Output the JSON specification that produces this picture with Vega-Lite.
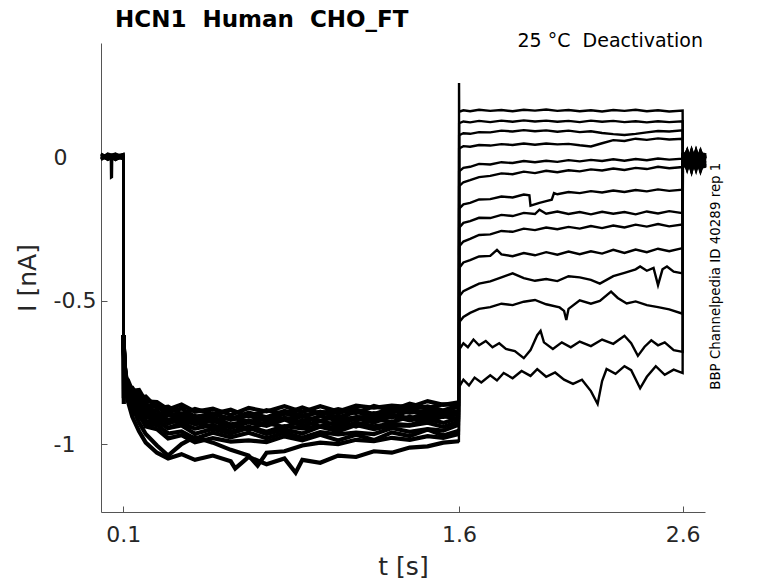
{
  "$schema": "https://vega.github.io/schema/vega-lite/v6.json",
  "width": 604,
  "height": 469,
  "autosize": {"type": "none"},
  "padding": {"left": 101, "top": 43, "right": 73, "bottom": 71},
  "background": "white",
  "config": {"view": {"stroke": null}, "font": "DejaVu Sans"},
  "layer": [
    {
      "data": {
        "values": [
          {"s":1,"t":0,"i":0.006},{"s":1,"t":0.03,"i":-0.004},{"s":1,"t":0.065,"i":0.01},{"s":1,"t":0.0995,"i":0.002},
          {"s":1,"t":0.1,"i":-0.62},{"s":1,"t":0.104,"i":-0.714},{"s":1,"t":0.11,"i":-0.751},{"s":1,"t":0.12,"i":-0.802},{"s":1,"t":0.14,"i":-0.803},{"s":1,"t":0.17,"i":-0.839},{"s":1,"t":0.2,"i":-0.834},{"s":1,"t":0.25,"i":-0.875},{"s":1,"t":0.3,"i":-0.869},{"s":1,"t":0.36,"i":-0.896},{"s":1,"t":0.42,"i":-0.877},{"s":1,"t":0.5,"i":-0.894},{"s":1,"t":0.58,"i":-0.88},{"s":1,"t":0.66,"i":-0.904},{"s":1,"t":0.74,"i":-0.882},{"s":1,"t":0.82,"i":-0.894},{"s":1,"t":0.9,"i":-0.872},{"s":1,"t":0.98,"i":-0.894},{"s":1,"t":1.06,"i":-0.878},{"s":1,"t":1.14,"i":-0.892},{"s":1,"t":1.22,"i":-0.867},{"s":1,"t":1.3,"i":-0.882},{"s":1,"t":1.38,"i":-0.859},{"s":1,"t":1.46,"i":-0.874},{"s":1,"t":1.53,"i":-0.861},{"s":1,"t":1.6,"i":-0.862},
          {"s":1,"t":1.6005,"i":0.26},
          {"s":1,"t":1.601,"i":0.16},{"s":1,"t":1.62,"i":0.165},{"s":1,"t":1.65,"i":0.162},{"s":1,"t":1.69,"i":0.167},{"s":1,"t":1.74,"i":0.163},{"s":1,"t":1.79,"i":0.166},{"s":1,"t":1.84,"i":0.162},{"s":1,"t":1.89,"i":0.167},{"s":1,"t":1.94,"i":0.164},{"s":1,"t":1.99,"i":0.168},{"s":1,"t":2.04,"i":0.163},{"s":1,"t":2.09,"i":0.166},{"s":1,"t":2.14,"i":0.162},{"s":1,"t":2.19,"i":0.165},{"s":1,"t":2.24,"i":0.161},{"s":1,"t":2.29,"i":0.166},{"s":1,"t":2.34,"i":0.163},{"s":1,"t":2.39,"i":0.167},{"s":1,"t":2.44,"i":0.162},{"s":1,"t":2.49,"i":0.165},{"s":1,"t":2.54,"i":0.161},{"s":1,"t":2.6,"i":0.164},
          {"s":1,"t":2.601,"i":0.012},{"s":1,"t":2.62,"i":-0.03},{"s":1,"t":2.64,"i":0.018},{"s":1,"t":2.66,"i":-0.036},{"s":1,"t":2.68,"i":0.01},{"s":1,"t":2.7,"i":-0.02},

          {"s":2,"t":0,"i":-0.006},{"s":2,"t":0.03,"i":0.012},{"s":2,"t":0.065,"i":-0.002},{"s":2,"t":0.0995,"i":0.008},
          {"s":2,"t":0.1,"i":-0.62},{"s":2,"t":0.104,"i":-0.706},{"s":2,"t":0.11,"i":-0.783},{"s":2,"t":0.12,"i":-0.8},{"s":2,"t":0.14,"i":-0.847},{"s":2,"t":0.17,"i":-0.849},{"s":2,"t":0.2,"i":-0.894},{"s":2,"t":0.25,"i":-0.899},{"s":2,"t":0.3,"i":-0.929},{"s":2,"t":0.36,"i":-0.912},{"s":2,"t":0.42,"i":-0.931},{"s":2,"t":0.5,"i":-0.918},{"s":2,"t":0.58,"i":-0.944},{"s":2,"t":0.66,"i":-0.924},{"s":2,"t":0.74,"i":-0.936},{"s":2,"t":0.82,"i":-0.914},{"s":2,"t":0.9,"i":-0.936},{"s":2,"t":0.98,"i":-0.92},{"s":2,"t":1.06,"i":-0.934},{"s":2,"t":1.14,"i":-0.91},{"s":2,"t":1.22,"i":-0.925},{"s":2,"t":1.3,"i":-0.902},{"s":2,"t":1.38,"i":-0.917},{"s":2,"t":1.46,"i":-0.904},{"s":2,"t":1.53,"i":-0.905},{"s":2,"t":1.6,"i":-0.894},
          {"s":2,"t":1.601,"i":0.12},{"s":2,"t":1.62,"i":0.126},{"s":2,"t":1.65,"i":0.123},{"s":2,"t":1.69,"i":0.128},{"s":2,"t":1.74,"i":0.124},{"s":2,"t":1.79,"i":0.129},{"s":2,"t":1.84,"i":0.125},{"s":2,"t":1.89,"i":0.13},{"s":2,"t":1.94,"i":0.126},{"s":2,"t":1.99,"i":0.129},{"s":2,"t":2.04,"i":0.125},{"s":2,"t":2.09,"i":0.128},{"s":2,"t":2.14,"i":0.124},{"s":2,"t":2.19,"i":0.129},{"s":2,"t":2.24,"i":0.125},{"s":2,"t":2.29,"i":0.128},{"s":2,"t":2.34,"i":0.124},{"s":2,"t":2.39,"i":0.127},{"s":2,"t":2.44,"i":0.123},{"s":2,"t":2.49,"i":0.127},{"s":2,"t":2.54,"i":0.124},{"s":2,"t":2.6,"i":0.127},
          {"s":2,"t":2.601,"i":-0.025},{"s":2,"t":2.62,"i":0.015},{"s":2,"t":2.64,"i":-0.04},{"s":2,"t":2.66,"i":0.02},{"s":2,"t":2.68,"i":-0.028},{"s":2,"t":2.7,"i":0.008},

          {"s":3,"t":0,"i":0.014},{"s":3,"t":0.03,"i":0.0},{"s":3,"t":0.044,"i":-0.004},{"s":3,"t":0.045,"i":-0.07},{"s":3,"t":0.049,"i":-0.068},{"s":3,"t":0.05,"i":0.004},{"s":3,"t":0.065,"i":-0.008},{"s":3,"t":0.0995,"i":0.01},
          {"s":3,"t":0.1,"i":-0.62},{"s":3,"t":0.104,"i":-0.695},{"s":3,"t":0.11,"i":-0.772},{"s":3,"t":0.12,"i":-0.79},{"s":3,"t":0.14,"i":-0.837},{"s":3,"t":0.17,"i":-0.833},{"s":3,"t":0.2,"i":-0.868},{"s":3,"t":0.25,"i":-0.866},{"s":3,"t":0.3,"i":-0.9},{"s":3,"t":0.36,"i":-0.893},{"s":3,"t":0.42,"i":-0.914},{"s":3,"t":0.5,"i":-0.893},{"s":3,"t":0.58,"i":-0.915},{"s":3,"t":0.66,"i":-0.901},{"s":3,"t":0.74,"i":-0.919},{"s":3,"t":0.82,"i":-0.893},{"s":3,"t":0.9,"i":-0.905},{"s":3,"t":0.98,"i":-0.887},{"s":3,"t":1.06,"i":-0.907},{"s":3,"t":1.14,"i":-0.887},{"s":3,"t":1.22,"i":-0.904},{"s":3,"t":1.3,"i":-0.883},{"s":3,"t":1.38,"i":-0.89},{"s":3,"t":1.46,"i":-0.883},{"s":3,"t":1.53,"i":-0.888},{"s":3,"t":1.6,"i":-0.867},
          {"s":3,"t":1.601,"i":0.078},{"s":3,"t":1.62,"i":0.085},{"s":3,"t":1.65,"i":0.083},{"s":3,"t":1.69,"i":0.089},{"s":3,"t":1.74,"i":0.088},{"s":3,"t":1.79,"i":0.094},{"s":3,"t":1.84,"i":0.091},{"s":3,"t":1.89,"i":0.096},{"s":3,"t":1.94,"i":0.092},{"s":3,"t":1.99,"i":0.095},{"s":3,"t":2.04,"i":0.09},{"s":3,"t":2.09,"i":0.094},{"s":3,"t":2.14,"i":0.089},{"s":3,"t":2.19,"i":0.092},{"s":3,"t":2.24,"i":0.086},{"s":3,"t":2.29,"i":0.082},{"s":3,"t":2.34,"i":0.079},{"s":3,"t":2.39,"i":0.083},{"s":3,"t":2.44,"i":0.088},{"s":3,"t":2.49,"i":0.093},{"s":3,"t":2.54,"i":0.091},{"s":3,"t":2.6,"i":0.095},
          {"s":3,"t":2.601,"i":0.005},{"s":3,"t":2.62,"i":-0.038},{"s":3,"t":2.64,"i":0.016},{"s":3,"t":2.66,"i":-0.022},{"s":3,"t":2.68,"i":0.019},{"s":3,"t":2.7,"i":-0.032},

          {"s":4,"t":0,"i":0.004},{"s":4,"t":0.03,"i":0.008},{"s":4,"t":0.065,"i":-0.006},{"s":4,"t":0.0995,"i":0.0},
          {"s":4,"t":0.1,"i":-0.62},{"s":4,"t":0.102,"i":-0.84},{"s":4,"t":0.104,"i":-0.707},{"s":4,"t":0.11,"i":-0.788},{"s":4,"t":0.12,"i":-0.809},{"s":4,"t":0.14,"i":-0.865},{"s":4,"t":0.17,"i":-0.877},{"s":4,"t":0.2,"i":-0.921},{"s":4,"t":0.25,"i":-0.92},{"s":4,"t":0.3,"i":-0.944},{"s":4,"t":0.36,"i":-0.935},{"s":4,"t":0.42,"i":-0.964},{"s":4,"t":0.5,"i":-0.947},{"s":4,"t":0.58,"i":-0.963},{"s":4,"t":0.66,"i":-0.943},{"s":4,"t":0.74,"i":-0.965},{"s":4,"t":0.82,"i":-0.949},{"s":4,"t":0.9,"i":-0.963},{"s":4,"t":0.98,"i":-0.939},{"s":4,"t":1.06,"i":-0.955},{"s":4,"t":1.14,"i":-0.933},{"s":4,"t":1.22,"i":-0.948},{"s":4,"t":1.3,"i":-0.935},{"s":4,"t":1.38,"i":-0.936},{"s":4,"t":1.46,"i":-0.925},{"s":4,"t":1.53,"i":-0.94},{"s":4,"t":1.6,"i":-0.921},
          {"s":4,"t":1.601,"i":0.032},{"s":4,"t":1.62,"i":0.04},{"s":4,"t":1.65,"i":0.038},{"s":4,"t":1.69,"i":0.044},{"s":4,"t":1.74,"i":0.042},{"s":4,"t":1.79,"i":0.047},{"s":4,"t":1.84,"i":0.044},{"s":4,"t":1.89,"i":0.049},{"s":4,"t":1.94,"i":0.045},{"s":4,"t":1.99,"i":0.049},{"s":4,"t":2.04,"i":0.046},{"s":4,"t":2.09,"i":0.048},{"s":4,"t":2.14,"i":0.043},{"s":4,"t":2.19,"i":0.039},{"s":4,"t":2.24,"i":0.05},{"s":4,"t":2.29,"i":0.061},{"s":4,"t":2.34,"i":0.058},{"s":4,"t":2.39,"i":0.066},{"s":4,"t":2.44,"i":0.062},{"s":4,"t":2.49,"i":0.067},{"s":4,"t":2.54,"i":0.063},{"s":4,"t":2.6,"i":0.066},
          {"s":4,"t":2.601,"i":-0.018},{"s":4,"t":2.62,"i":0.02},{"s":4,"t":2.64,"i":-0.032},{"s":4,"t":2.66,"i":0.014},{"s":4,"t":2.68,"i":-0.04},{"s":4,"t":2.7,"i":0.006},

          {"s":5,"t":0,"i":0.01},{"s":5,"t":0.03,"i":-0.006},{"s":5,"t":0.065,"i":0.004},{"s":5,"t":0.0995,"i":-0.004},
          {"s":5,"t":0.1,"i":-0.62},{"s":5,"t":0.104,"i":-0.694},{"s":5,"t":0.11,"i":-0.768},{"s":5,"t":0.12,"i":-0.776},{"s":5,"t":0.14,"i":-0.814},{"s":5,"t":0.17,"i":-0.811},{"s":5,"t":0.2,"i":-0.851},{"s":5,"t":0.25,"i":-0.853},{"s":5,"t":0.3,"i":-0.879},{"s":5,"t":0.36,"i":-0.862},{"s":5,"t":0.42,"i":-0.887},{"s":5,"t":0.5,"i":-0.876},{"s":5,"t":0.58,"i":-0.898},{"s":5,"t":0.66,"i":-0.874},{"s":5,"t":0.74,"i":-0.886},{"s":5,"t":0.82,"i":-0.868},{"s":5,"t":0.9,"i":-0.888},{"s":5,"t":0.98,"i":-0.868},{"s":5,"t":1.06,"i":-0.886},{"s":5,"t":1.14,"i":-0.866},{"s":5,"t":1.22,"i":-0.873},{"s":5,"t":1.3,"i":-0.866},{"s":5,"t":1.38,"i":-0.871},{"s":5,"t":1.46,"i":-0.85},{"s":5,"t":1.53,"i":-0.863},{"s":5,"t":1.6,"i":-0.854},
          {"s":5,"t":1.601,"i":-0.048},{"s":5,"t":1.62,"i":-0.036},{"s":5,"t":1.65,"i":-0.032},{"s":5,"t":1.69,"i":-0.022},{"s":5,"t":1.74,"i":-0.024},{"s":5,"t":1.79,"i":-0.016},{"s":5,"t":1.84,"i":-0.019},{"s":5,"t":1.89,"i":-0.012},{"s":5,"t":1.94,"i":-0.016},{"s":5,"t":1.99,"i":-0.011},{"s":5,"t":2.04,"i":-0.015},{"s":5,"t":2.09,"i":-0.009},{"s":5,"t":2.14,"i":-0.013},{"s":5,"t":2.19,"i":-0.008},{"s":5,"t":2.24,"i":-0.012},{"s":5,"t":2.29,"i":-0.006},{"s":5,"t":2.34,"i":-0.011},{"s":5,"t":2.39,"i":-0.005},{"s":5,"t":2.44,"i":-0.009},{"s":5,"t":2.49,"i":-0.003},{"s":5,"t":2.54,"i":-0.007},{"s":5,"t":2.6,"i":-0.004},
          {"s":5,"t":2.601,"i":0.016},{"s":5,"t":2.62,"i":-0.034},{"s":5,"t":2.64,"i":0.01},{"s":5,"t":2.66,"i":-0.026},{"s":5,"t":2.68,"i":0.02},{"s":5,"t":2.7,"i":-0.012},

          {"s":6,"t":0,"i":-0.008},{"s":6,"t":0.03,"i":0.006},{"s":6,"t":0.065,"i":0.014},{"s":6,"t":0.0995,"i":-0.002},
          {"s":6,"t":0.1,"i":-0.62},{"s":6,"t":0.104,"i":-0.696},{"s":6,"t":0.11,"i":-0.778},{"s":6,"t":0.12,"i":-0.799},{"s":6,"t":0.14,"i":-0.847},{"s":6,"t":0.17,"i":-0.845},{"s":6,"t":0.2,"i":-0.879},{"s":6,"t":0.25,"i":-0.883},{"s":6,"t":0.3,"i":-0.917},{"s":6,"t":0.36,"i":-0.904},{"s":6,"t":0.42,"i":-0.923},{"s":6,"t":0.5,"i":-0.906},{"s":6,"t":0.58,"i":-0.932},{"s":6,"t":0.66,"i":-0.918},{"s":6,"t":0.74,"i":-0.932},{"s":6,"t":0.82,"i":-0.908},{"s":6,"t":0.9,"i":-0.924},{"s":6,"t":0.98,"i":-0.902},{"s":6,"t":1.06,"i":-0.918},{"s":6,"t":1.14,"i":-0.906},{"s":6,"t":1.22,"i":-0.907},{"s":6,"t":1.3,"i":-0.896},{"s":6,"t":1.38,"i":-0.911},{"s":6,"t":1.46,"i":-0.892},{"s":6,"t":1.53,"i":-0.895},{"s":6,"t":1.6,"i":-0.884},
          {"s":6,"t":1.601,"i":-0.1},{"s":6,"t":1.62,"i":-0.086},{"s":6,"t":1.65,"i":-0.079},{"s":6,"t":1.69,"i":-0.068},{"s":6,"t":1.74,"i":-0.064},{"s":6,"t":1.79,"i":-0.055},{"s":6,"t":1.84,"i":-0.058},{"s":6,"t":1.89,"i":-0.049},{"s":6,"t":1.94,"i":-0.054},{"s":6,"t":1.99,"i":-0.046},{"s":6,"t":2.04,"i":-0.051},{"s":6,"t":2.09,"i":-0.044},{"s":6,"t":2.14,"i":-0.048},{"s":6,"t":2.19,"i":-0.041},{"s":6,"t":2.24,"i":-0.045},{"s":6,"t":2.29,"i":-0.038},{"s":6,"t":2.34,"i":-0.043},{"s":6,"t":2.39,"i":-0.036},{"s":6,"t":2.44,"i":-0.04},{"s":6,"t":2.49,"i":-0.032},{"s":6,"t":2.54,"i":-0.037},{"s":6,"t":2.6,"i":-0.033},
          {"s":6,"t":2.601,"i":-0.03},{"s":6,"t":2.62,"i":0.01},{"s":6,"t":2.64,"i":-0.044},{"s":6,"t":2.66,"i":0.018},{"s":6,"t":2.68,"i":-0.016},{"s":6,"t":2.7,"i":0.012},

          {"s":7,"t":0,"i":0.012},{"s":7,"t":0.03,"i":-0.008},{"s":7,"t":0.065,"i":0.002},{"s":7,"t":0.0995,"i":0.006},
          {"s":7,"t":0.1,"i":-0.62},{"s":7,"t":0.104,"i":-0.71},{"s":7,"t":0.11,"i":-0.791},{"s":7,"t":0.12,"i":-0.816},{"s":7,"t":0.14,"i":-0.875},{"s":7,"t":0.17,"i":-0.891},{"s":7,"t":0.2,"i":-0.932},{"s":7,"t":0.25,"i":-0.933},{"s":7,"t":0.3,"i":-0.963},{"s":7,"t":0.36,"i":-0.956},{"s":7,"t":0.42,"i":-0.981},{"s":7,"t":0.5,"i":-0.96},{"s":7,"t":0.58,"i":-0.976},{"s":7,"t":0.66,"i":-0.96},{"s":7,"t":0.74,"i":-0.98},{"s":7,"t":0.82,"i":-0.96},{"s":7,"t":0.9,"i":-0.978},{"s":7,"t":0.98,"i":-0.958},{"s":7,"t":1.06,"i":-0.966},{"s":7,"t":1.14,"i":-0.96},{"s":7,"t":1.22,"i":-0.965},{"s":7,"t":1.3,"i":-0.944},{"s":7,"t":1.38,"i":-0.957},{"s":7,"t":1.46,"i":-0.948},{"s":7,"t":1.53,"i":-0.953},{"s":7,"t":1.6,"i":-0.932},
          {"s":7,"t":1.601,"i":-0.178},{"s":7,"t":1.62,"i":-0.163},{"s":7,"t":1.65,"i":-0.158},{"s":7,"t":1.69,"i":-0.146},{"s":7,"t":1.74,"i":-0.145},{"s":7,"t":1.79,"i":-0.136},{"s":7,"t":1.84,"i":-0.139},{"s":7,"t":1.89,"i":-0.129},{"s":7,"t":1.915,"i":-0.132},{"s":7,"t":1.92,"i":-0.168},{"s":7,"t":1.96,"i":-0.158},{"s":7,"t":1.99,"i":-0.152},{"s":7,"t":2.015,"i":-0.147},{"s":7,"t":2.025,"i":-0.124},{"s":7,"t":2.04,"i":-0.128},{"s":7,"t":2.09,"i":-0.12},{"s":7,"t":2.14,"i":-0.124},{"s":7,"t":2.19,"i":-0.117},{"s":7,"t":2.24,"i":-0.122},{"s":7,"t":2.29,"i":-0.115},{"s":7,"t":2.34,"i":-0.12},{"s":7,"t":2.39,"i":-0.113},{"s":7,"t":2.44,"i":-0.118},{"s":7,"t":2.49,"i":-0.111},{"s":7,"t":2.54,"i":-0.116},{"s":7,"t":2.6,"i":-0.112},
          {"s":7,"t":2.601,"i":0.008},{"s":7,"t":2.62,"i":-0.026},{"s":7,"t":2.64,"i":0.02},{"s":7,"t":2.66,"i":-0.03},{"s":7,"t":2.68,"i":0.004},{"s":7,"t":2.7,"i":-0.024},

          {"s":8,"t":0,"i":-0.004},{"s":8,"t":0.03,"i":0.01},{"s":8,"t":0.065,"i":0.0},{"s":8,"t":0.0995,"i":0.012},
          {"s":8,"t":0.1,"i":-0.62},{"s":8,"t":0.104,"i":-0.7},{"s":8,"t":0.11,"i":-0.774},{"s":8,"t":0.12,"i":-0.784},{"s":8,"t":0.14,"i":-0.822},{"s":8,"t":0.17,"i":-0.825},{"s":8,"t":0.2,"i":-0.867},{"s":8,"t":0.25,"i":-0.865},{"s":8,"t":0.3,"i":-0.889},{"s":8,"t":0.36,"i":-0.876},{"s":8,"t":0.42,"i":-0.905},{"s":8,"t":0.5,"i":-0.894},{"s":8,"t":0.58,"i":-0.912},{"s":8,"t":0.66,"i":-0.89},{"s":8,"t":0.74,"i":-0.906},{"s":8,"t":0.82,"i":-0.884},{"s":8,"t":0.9,"i":-0.9},{"s":8,"t":0.98,"i":-0.888},{"s":8,"t":1.06,"i":-0.89},{"s":8,"t":1.14,"i":-0.88},{"s":8,"t":1.22,"i":-0.895},{"s":8,"t":1.3,"i":-0.876},{"s":8,"t":1.38,"i":-0.879},{"s":8,"t":1.46,"i":-0.868},{"s":8,"t":1.53,"i":-0.883},{"s":8,"t":1.6,"i":-0.864},
          {"s":8,"t":1.601,"i":-0.245},{"s":8,"t":1.62,"i":-0.228},{"s":8,"t":1.65,"i":-0.222},{"s":8,"t":1.69,"i":-0.21},{"s":8,"t":1.74,"i":-0.211},{"s":8,"t":1.79,"i":-0.2},{"s":8,"t":1.84,"i":-0.204},{"s":8,"t":1.89,"i":-0.193},{"s":8,"t":1.94,"i":-0.197},{"s":8,"t":1.96,"i":-0.182},{"s":8,"t":1.99,"i":-0.196},{"s":8,"t":2.04,"i":-0.188},{"s":8,"t":2.09,"i":-0.197},{"s":8,"t":2.14,"i":-0.19},{"s":8,"t":2.19,"i":-0.198},{"s":8,"t":2.24,"i":-0.189},{"s":8,"t":2.29,"i":-0.196},{"s":8,"t":2.34,"i":-0.19},{"s":8,"t":2.39,"i":-0.198},{"s":8,"t":2.44,"i":-0.188},{"s":8,"t":2.49,"i":-0.195},{"s":8,"t":2.54,"i":-0.187},{"s":8,"t":2.6,"i":-0.194},
          {"s":8,"t":2.601,"i":-0.022},{"s":8,"t":2.62,"i":0.018},{"s":8,"t":2.64,"i":-0.036},{"s":8,"t":2.66,"i":0.01},{"s":8,"t":2.68,"i":-0.03},{"s":8,"t":2.7,"i":0.016},

          {"s":9,"t":0,"i":0.008},{"s":9,"t":0.03,"i":0.002},{"s":9,"t":0.065,"i":-0.008},{"s":9,"t":0.0995,"i":0.004},
          {"s":9,"t":0.1,"i":-0.62},{"s":9,"t":0.104,"i":-0.701},{"s":9,"t":0.11,"i":-0.786},{"s":9,"t":0.12,"i":-0.814},{"s":9,"t":0.14,"i":-0.861},{"s":9,"t":0.17,"i":-0.863},{"s":9,"t":0.2,"i":-0.906},{"s":9,"t":0.25,"i":-0.914},{"s":9,"t":0.3,"i":-0.944},{"s":9,"t":0.36,"i":-0.927},{"s":9,"t":0.42,"i":-0.946},{"s":9,"t":0.5,"i":-0.933},{"s":9,"t":0.58,"i":-0.957},{"s":9,"t":0.66,"i":-0.939},{"s":9,"t":0.74,"i":-0.957},{"s":9,"t":0.82,"i":-0.937},{"s":9,"t":0.9,"i":-0.945},{"s":9,"t":0.98,"i":-0.939},{"s":9,"t":1.06,"i":-0.945},{"s":9,"t":1.14,"i":-0.925},{"s":9,"t":1.22,"i":-0.938},{"s":9,"t":1.3,"i":-0.929},{"s":9,"t":1.38,"i":-0.934},{"s":9,"t":1.46,"i":-0.913},{"s":9,"t":1.53,"i":-0.926},{"s":9,"t":1.6,"i":-0.909},
          {"s":9,"t":1.601,"i":-0.31},{"s":9,"t":1.62,"i":-0.293},{"s":9,"t":1.65,"i":-0.284},{"s":9,"t":1.69,"i":-0.27},{"s":9,"t":1.74,"i":-0.268},{"s":9,"t":1.79,"i":-0.256},{"s":9,"t":1.84,"i":-0.259},{"s":9,"t":1.89,"i":-0.248},{"s":9,"t":1.94,"i":-0.253},{"s":9,"t":1.99,"i":-0.244},{"s":9,"t":2.04,"i":-0.25},{"s":9,"t":2.09,"i":-0.242},{"s":9,"t":2.14,"i":-0.248},{"s":9,"t":2.19,"i":-0.239},{"s":9,"t":2.24,"i":-0.246},{"s":9,"t":2.29,"i":-0.237},{"s":9,"t":2.34,"i":-0.244},{"s":9,"t":2.39,"i":-0.234},{"s":9,"t":2.44,"i":-0.241},{"s":9,"t":2.49,"i":-0.232},{"s":9,"t":2.54,"i":-0.24},{"s":9,"t":2.6,"i":-0.233},
          {"s":9,"t":2.601,"i":0.014},{"s":9,"t":2.62,"i":-0.028},{"s":9,"t":2.64,"i":0.008},{"s":9,"t":2.66,"i":-0.04},{"s":9,"t":2.68,"i":0.016},{"s":9,"t":2.7,"i":-0.018},

          {"s":10,"t":0,"i":-0.002},{"s":10,"t":0.03,"i":0.014},{"s":10,"t":0.065,"i":0.006},{"s":10,"t":0.0995,"i":-0.006},
          {"s":10,"t":0.1,"i":-0.62},{"s":10,"t":0.104,"i":-0.72},{"s":10,"t":0.11,"i":-0.8},{"s":10,"t":0.12,"i":-0.85},{"s":10,"t":0.14,"i":-0.905},{"s":10,"t":0.17,"i":-0.955},{"s":10,"t":0.2,"i":-0.995},{"s":10,"t":0.25,"i":-1.03},{"s":10,"t":0.3,"i":-1.05},{"s":10,"t":0.36,"i":-1.035},{"s":10,"t":0.42,"i":-1.055},{"s":10,"t":0.5,"i":-1.04},{"s":10,"t":0.58,"i":-1.06},{"s":10,"t":0.6,"i":-1.085},{"s":10,"t":0.66,"i":-1.045},{"s":10,"t":0.74,"i":-1.07},{"s":10,"t":0.82,"i":-1.05},{"s":10,"t":0.87,"i":-1.1},{"s":10,"t":0.9,"i":-1.055},{"s":10,"t":0.98,"i":-1.065},{"s":10,"t":1.06,"i":-1.04},{"s":10,"t":1.14,"i":-1.045},{"s":10,"t":1.22,"i":-1.025},{"s":10,"t":1.3,"i":-1.03},{"s":10,"t":1.38,"i":-1.012},{"s":10,"t":1.46,"i":-1.008},{"s":10,"t":1.53,"i":-0.995},{"s":10,"t":1.6,"i":-0.99},
          {"s":10,"t":1.601,"i":-0.385},{"s":10,"t":1.62,"i":-0.366},{"s":10,"t":1.65,"i":-0.358},{"s":10,"t":1.69,"i":-0.345},{"s":10,"t":1.74,"i":-0.343},{"s":10,"t":1.77,"i":-0.322},{"s":10,"t":1.79,"i":-0.338},{"s":10,"t":1.84,"i":-0.344},{"s":10,"t":1.89,"i":-0.333},{"s":10,"t":1.94,"i":-0.341},{"s":10,"t":1.99,"i":-0.33},{"s":10,"t":2.04,"i":-0.339},{"s":10,"t":2.09,"i":-0.328},{"s":10,"t":2.14,"i":-0.337},{"s":10,"t":2.19,"i":-0.327},{"s":10,"t":2.24,"i":-0.335},{"s":10,"t":2.29,"i":-0.322},{"s":10,"t":2.34,"i":-0.333},{"s":10,"t":2.39,"i":-0.321},{"s":10,"t":2.44,"i":-0.33},{"s":10,"t":2.49,"i":-0.318},{"s":10,"t":2.54,"i":-0.327},{"s":10,"t":2.6,"i":-0.316},
          {"s":10,"t":2.601,"i":-0.034},{"s":10,"t":2.62,"i":0.012},{"s":10,"t":2.64,"i":-0.024},{"s":10,"t":2.66,"i":0.02},{"s":10,"t":2.68,"i":-0.038},{"s":10,"t":2.7,"i":0.004},

          {"s":11,"t":0,"i":0.002},{"s":11,"t":0.03,"i":-0.006},{"s":11,"t":0.065,"i":0.012},{"s":11,"t":0.0995,"i":0.004},
          {"s":11,"t":0.1,"i":-0.62},{"s":11,"t":0.104,"i":-0.713},{"s":11,"t":0.11,"i":-0.754},{"s":11,"t":0.12,"i":-0.815},{"s":11,"t":0.14,"i":-0.821},{"s":11,"t":0.17,"i":-0.857},{"s":11,"t":0.2,"i":-0.857},{"s":11,"t":0.25,"i":-0.9},{"s":11,"t":0.3,"i":-0.896},{"s":11,"t":0.36,"i":-0.919},{"s":11,"t":0.42,"i":-0.902},{"s":11,"t":0.5,"i":-0.923},{"s":11,"t":0.58,"i":-0.905},{"s":11,"t":0.66,"i":-0.923},{"s":11,"t":0.74,"i":-0.911},{"s":11,"t":0.82,"i":-0.913},{"s":11,"t":0.9,"i":-0.903},{"s":11,"t":0.98,"i":-0.919},{"s":11,"t":1.06,"i":-0.901},{"s":11,"t":1.14,"i":-0.917},{"s":11,"t":1.22,"i":-0.892},{"s":11,"t":1.3,"i":-0.907},{"s":11,"t":1.38,"i":-0.882},{"s":11,"t":1.46,"i":-0.903},{"s":11,"t":1.53,"i":-0.884},{"s":11,"t":1.6,"i":-0.901},
          {"s":11,"t":1.601,"i":-0.485},{"s":11,"t":1.62,"i":-0.466},{"s":11,"t":1.65,"i":-0.455},{"s":11,"t":1.69,"i":-0.44},{"s":11,"t":1.74,"i":-0.432},{"s":11,"t":1.79,"i":-0.418},{"s":11,"t":1.84,"i":-0.404},{"s":11,"t":1.89,"i":-0.421},{"s":11,"t":1.94,"i":-0.43},{"s":11,"t":1.99,"i":-0.424},{"s":11,"t":2.04,"i":-0.431},{"s":11,"t":2.09,"i":-0.414},{"s":11,"t":2.14,"i":-0.418},{"s":11,"t":2.19,"i":-0.427},{"s":11,"t":2.23,"i":-0.44},{"s":11,"t":2.29,"i":-0.414},{"s":11,"t":2.34,"i":-0.402},{"s":11,"t":2.39,"i":-0.39},{"s":11,"t":2.41,"i":-0.38},{"s":11,"t":2.44,"i":-0.395},{"s":11,"t":2.47,"i":-0.385},{"s":11,"t":2.49,"i":-0.445},{"s":11,"t":2.51,"i":-0.39},{"s":11,"t":2.53,"i":-0.38},{"s":11,"t":2.56,"i":-0.398},{"s":11,"t":2.6,"i":-0.404},
          {"s":11,"t":2.601,"i":0.01},{"s":11,"t":2.62,"i":-0.032},{"s":11,"t":2.64,"i":0.022},{"s":11,"t":2.66,"i":-0.026},{"s":11,"t":2.68,"i":0.006},{"s":11,"t":2.7,"i":-0.036},

          {"s":12,"t":0,"i":0.01},{"s":12,"t":0.03,"i":0.004},{"s":12,"t":0.065,"i":-0.004},{"s":12,"t":0.0995,"i":0.008},
          {"s":12,"t":0.1,"i":-0.62},{"s":12,"t":0.102,"i":-0.86},{"s":12,"t":0.104,"i":-0.711},{"s":12,"t":0.11,"i":-0.798},{"s":12,"t":0.12,"i":-0.832},{"s":12,"t":0.14,"i":-0.889},{"s":12,"t":0.17,"i":-0.897},{"s":12,"t":0.2,"i":-0.938},{"s":12,"t":0.25,"i":-0.948},{"s":12,"t":0.3,"i":-0.98},{"s":12,"t":0.36,"i":-0.969},{"s":12,"t":0.42,"i":-0.994},{"s":12,"t":0.5,"i":-0.979},{"s":12,"t":0.58,"i":-0.991},{"s":12,"t":0.66,"i":-0.987},{"s":12,"t":0.74,"i":-0.993},{"s":12,"t":0.82,"i":-0.973},{"s":12,"t":0.9,"i":-0.987},{"s":12,"t":0.98,"i":-0.967},{"s":12,"t":1.06,"i":-0.987},{"s":12,"t":1.14,"i":-0.967},{"s":12,"t":1.22,"i":-0.986},{"s":12,"t":1.3,"i":-0.959},{"s":12,"t":1.38,"i":-0.972},{"s":12,"t":1.46,"i":-0.949},{"s":12,"t":1.53,"i":-0.97},{"s":12,"t":1.6,"i":-0.953},
          {"s":12,"t":1.601,"i":-0.575},{"s":12,"t":1.62,"i":-0.556},{"s":12,"t":1.65,"i":-0.542},{"s":12,"t":1.69,"i":-0.528},{"s":12,"t":1.74,"i":-0.522},{"s":12,"t":1.79,"i":-0.51},{"s":12,"t":1.84,"i":-0.515},{"s":12,"t":1.89,"i":-0.503},{"s":12,"t":1.94,"i":-0.497},{"s":12,"t":1.99,"i":-0.512},{"s":12,"t":2.05,"i":-0.523},{"s":12,"t":2.07,"i":-0.535},{"s":12,"t":2.08,"i":-0.567},{"s":12,"t":2.09,"i":-0.528},{"s":12,"t":2.14,"i":-0.498},{"s":12,"t":2.19,"i":-0.51},{"s":12,"t":2.23,"i":-0.5},{"s":12,"t":2.28,"i":-0.468},{"s":12,"t":2.31,"i":-0.49},{"s":12,"t":2.35,"i":-0.509},{"s":12,"t":2.39,"i":-0.502},{"s":12,"t":2.44,"i":-0.515},{"s":12,"t":2.49,"i":-0.522},{"s":12,"t":2.54,"i":-0.53},{"s":12,"t":2.6,"i":-0.545},
          {"s":12,"t":2.601,"i":-0.014},{"s":12,"t":2.62,"i":0.02},{"s":12,"t":2.64,"i":-0.042},{"s":12,"t":2.66,"i":0.012},{"s":12,"t":2.68,"i":-0.022},{"s":12,"t":2.7,"i":0.01},

          {"s":13,"t":0,"i":-0.004},{"s":13,"t":0.03,"i":0.008},{"s":13,"t":0.065,"i":0.01},{"s":13,"t":0.0995,"i":-0.002},
          {"s":13,"t":0.1,"i":-0.62},{"s":13,"t":0.104,"i":-0.71},{"s":13,"t":0.11,"i":-0.785},{"s":13,"t":0.12,"i":-0.825},{"s":13,"t":0.14,"i":-0.87},{"s":13,"t":0.17,"i":-0.925},{"s":13,"t":0.2,"i":-0.965},{"s":13,"t":0.25,"i":-1.005},{"s":13,"t":0.3,"i":-1.04},{"s":13,"t":0.36,"i":-1.0},{"s":13,"t":0.42,"i":-0.975},{"s":13,"t":0.5,"i":-0.995},{"s":13,"t":0.58,"i":-1.02},{"s":13,"t":0.66,"i":-1.04},{"s":13,"t":0.7,"i":-1.075},{"s":13,"t":0.74,"i":-1.03},{"s":13,"t":0.82,"i":-1.025},{"s":13,"t":0.9,"i":-1.005},{"s":13,"t":0.98,"i":-0.995},{"s":13,"t":1.06,"i":-1.0},{"s":13,"t":1.14,"i":-0.985},{"s":13,"t":1.22,"i":-0.99},{"s":13,"t":1.3,"i":-0.978},{"s":13,"t":1.38,"i":-0.985},{"s":13,"t":1.46,"i":-0.972},{"s":13,"t":1.53,"i":-0.978},{"s":13,"t":1.6,"i":-0.965},
          {"s":13,"t":1.601,"i":-0.67},{"s":13,"t":1.62,"i":-0.648},{"s":13,"t":1.64,"i":-0.662},{"s":13,"t":1.665,"i":-0.635},{"s":13,"t":1.69,"i":-0.655},{"s":13,"t":1.72,"i":-0.64},{"s":13,"t":1.75,"i":-0.662},{"s":13,"t":1.78,"i":-0.648},{"s":13,"t":1.81,"i":-0.668},{"s":13,"t":1.85,"i":-0.675},{"s":13,"t":1.89,"i":-0.7},{"s":13,"t":1.92,"i":-0.672},{"s":13,"t":1.95,"i":-0.62},{"s":13,"t":1.965,"i":-0.605},{"s":13,"t":1.98,"i":-0.645},{"s":13,"t":2.02,"i":-0.668},{"s":13,"t":2.06,"i":-0.645},{"s":13,"t":2.1,"i":-0.662},{"s":13,"t":2.14,"i":-0.642},{"s":13,"t":2.19,"i":-0.658},{"s":13,"t":2.24,"i":-0.635},{"s":13,"t":2.29,"i":-0.65},{"s":13,"t":2.34,"i":-0.622},{"s":13,"t":2.37,"i":-0.648},{"s":13,"t":2.4,"i":-0.692},{"s":13,"t":2.43,"i":-0.66},{"s":13,"t":2.46,"i":-0.638},{"s":13,"t":2.49,"i":-0.655},{"s":13,"t":2.52,"i":-0.645},{"s":13,"t":2.56,"i":-0.672},{"s":13,"t":2.6,"i":-0.678},
          {"s":13,"t":2.601,"i":0.018},{"s":13,"t":2.62,"i":-0.024},{"s":13,"t":2.64,"i":0.004},{"s":13,"t":2.66,"i":-0.034},{"s":13,"t":2.68,"i":0.014},{"s":13,"t":2.7,"i":-0.028},

          {"s":14,"t":0,"i":0.006},{"s":14,"t":0.03,"i":-0.002},{"s":14,"t":0.065,"i":0.008},{"s":14,"t":0.0995,"i":0.012},
          {"s":14,"t":0.1,"i":-0.62},{"s":14,"t":0.104,"i":-0.723},{"s":14,"t":0.11,"i":-0.769},{"s":14,"t":0.12,"i":-0.825},{"s":14,"t":0.14,"i":-0.832},{"s":14,"t":0.17,"i":-0.875},{"s":14,"t":0.2,"i":-0.877},{"s":14,"t":0.25,"i":-0.916},{"s":14,"t":0.3,"i":-0.916},{"s":14,"t":0.36,"i":-0.927},{"s":14,"t":0.42,"i":-0.924},{"s":14,"t":0.5,"i":-0.945},{"s":14,"t":0.58,"i":-0.931},{"s":14,"t":0.66,"i":-0.949},{"s":14,"t":0.74,"i":-0.925},{"s":14,"t":0.82,"i":-0.941},{"s":14,"t":0.9,"i":-0.917},{"s":14,"t":0.98,"i":-0.939},{"s":14,"t":1.06,"i":-0.921},{"s":14,"t":1.14,"i":-0.939},{"s":14,"t":1.22,"i":-0.912},{"s":14,"t":1.3,"i":-0.923},{"s":14,"t":1.38,"i":-0.904},{"s":14,"t":1.46,"i":-0.925},{"s":14,"t":1.53,"i":-0.902},{"s":14,"t":1.6,"i":-0.913},
          {"s":14,"t":1.601,"i":-0.8},{"s":14,"t":1.62,"i":-0.775},{"s":14,"t":1.645,"i":-0.795},{"s":14,"t":1.67,"i":-0.768},{"s":14,"t":1.7,"i":-0.785},{"s":14,"t":1.74,"i":-0.76},{"s":14,"t":1.77,"i":-0.778},{"s":14,"t":1.8,"i":-0.752},{"s":14,"t":1.84,"i":-0.77},{"s":14,"t":1.88,"i":-0.745},{"s":14,"t":1.92,"i":-0.762},{"s":14,"t":1.95,"i":-0.738},{"s":14,"t":1.99,"i":-0.765},{"s":14,"t":2.03,"i":-0.75},{"s":14,"t":2.07,"i":-0.775},{"s":14,"t":2.11,"i":-0.79},{"s":14,"t":2.15,"i":-0.775},{"s":14,"t":2.19,"i":-0.815},{"s":14,"t":2.22,"i":-0.86},{"s":14,"t":2.24,"i":-0.78},{"s":14,"t":2.26,"i":-0.738},{"s":14,"t":2.3,"i":-0.755},{"s":14,"t":2.34,"i":-0.728},{"s":14,"t":2.37,"i":-0.742},{"s":14,"t":2.41,"i":-0.805},{"s":14,"t":2.44,"i":-0.765},{"s":14,"t":2.48,"i":-0.728},{"s":14,"t":2.52,"i":-0.758},{"s":14,"t":2.56,"i":-0.74},{"s":14,"t":2.6,"i":-0.752},
          {"s":14,"t":2.601,"i":-0.028},{"s":14,"t":2.62,"i":0.014},{"s":14,"t":2.64,"i":-0.03},{"s":14,"t":2.66,"i":0.008},{"s":14,"t":2.68,"i":-0.044},{"s":14,"t":2.7,"i":0.002}
        ]
      },
      "encoding": {
        "x": {
          "field": "t",
          "type": "quantitative",
          "scale": {"domain": [0, 2.7], "nice": false, "zero": false},
          "axis": {
            "title": "t [s]",
            "values": [0.1, 1.6, 2.6],
            "format": ".1f",
            "grid": false,
            "tickSize": -6,
            "labelPadding": 18,
            "labelBaseline": "top",
            "labelFlush": false,
            "labelFont": "DejaVu Sans",
            "labelFontSize": 22,
            "labelColor": "#262626",
            "domainColor": "#555555",
            "tickColor": "#555555",
            "titleFont": "DejaVu Sans",
            "titleFontSize": 25,
            "titleFontWeight": "normal",
            "titleColor": "#262626",
            "titleBaseline": "alphabetic",
            "titleY": 62
          }
        },
        "y": {
          "field": "i",
          "type": "quantitative",
          "scale": {"domain": [-1.237, 0.4], "nice": false, "zero": false},
          "axis": {
            "title": "I [nA]",
            "values": [-1, -0.5, 0],
            "labelExpr": "datum.value == 0 ? '0' : datum.value == -0.5 ? '-0.5' : '-1'",
            "grid": false,
            "tickSize": -6,
            "labelPadding": 54,
            "labelAlign": "left",
            "labelFont": "DejaVu Sans",
            "labelFontSize": 22,
            "labelColor": "#262626",
            "domainColor": "#555555",
            "tickColor": "#555555",
            "titleFont": "DejaVu Sans",
            "titleFontSize": 25,
            "titleFontWeight": "normal",
            "titleColor": "#262626",
            "titleAngle": 270,
            "titleAlign": "center",
            "titleBaseline": "alphabetic",
            "titleX": -66,
            "titleY": 234.5
          }
        },
        "detail": {"field": "s", "type": "nominal"}
      },
      "layer": [
        {
          "mark": {"type": "line", "color": "#000000", "strokeWidth": 2.4, "strokeJoin": "miter"}
        },
        {
          "transform": [{"filter": "datum.t >= 0.1 && datum.t <= 1.6"}],
          "mark": {"type": "line", "color": "#000000", "strokeWidth": 4.2, "strokeJoin": "miter"}
        },
        {
          "transform": [{"filter": "datum.t >= 2.601"}],
          "mark": {"type": "line", "color": "#000000", "strokeWidth": 3.6, "strokeJoin": "miter"}
        }
      ]
    },
    {
      "data": {"values": [{}]},
      "mark": {
        "type": "text",
        "text": "HCN1\u00a0 Human\u00a0 CHO_FT",
        "font": "DejaVu Sans",
        "fontSize": 23,
        "fontWeight": "bold",
        "color": "#000000",
        "align": "left",
        "baseline": "alphabetic"
      },
      "encoding": {
        "x": {"datum": 0.0626, "type": "quantitative"},
        "y": {"datum": 0.456, "type": "quantitative"}
      }
    },
    {
      "data": {"values": [{}]},
      "mark": {
        "type": "text",
        "text": "25 °C\u00a0 Deactivation",
        "font": "DejaVu Sans",
        "fontSize": 19,
        "color": "#000000",
        "align": "right",
        "baseline": "alphabetic",
        "dx": -2,
        "dy": 4
      },
      "encoding": {
        "x": {"datum": 2.7, "type": "quantitative"},
        "y": {"datum": 0.4, "type": "quantitative"}
      }
    },
    {
      "data": {"values": [{}]},
      "mark": {
        "type": "text",
        "text": "BBP Channelpedia ID 40289 rep 1",
        "font": "DejaVu Sans",
        "fontSize": 13.4,
        "color": "#000000",
        "angle": 270,
        "align": "center",
        "baseline": "middle",
        "dy": 11
      },
      "encoding": {
        "x": {"datum": 2.7, "type": "quantitative"},
        "y": {"datum": -0.414, "type": "quantitative"}
      }
    }
  ]
}
